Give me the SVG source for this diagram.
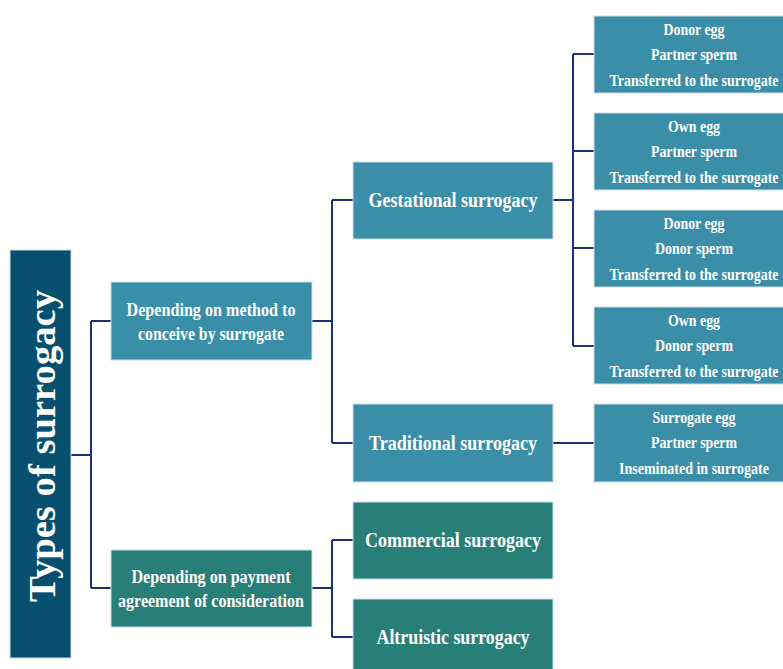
<svg xmlns="http://www.w3.org/2000/svg" width="783" height="669" viewBox="0 0 783 669">
<style>
.blue{fill:#3a8ea7;stroke:#c9e0e8;stroke-width:1}
.green{fill:#287f78;stroke:#c9e0e8;stroke-width:1}
.dark{fill:#064f6f;stroke:#c9e0e8;stroke-width:1}
text{font-family:"Liberation Serif","Times New Roman",serif;font-weight:bold;fill:#ffffff;text-anchor:middle}
.t1{font-size:20px}
.t2{font-size:18px}
.t3{font-size:16.5px}
.conn path{fill:none;stroke:#1d3079;stroke-width:2}
</style>
<rect width="783" height="669" fill="#ffffff"/>
<g class="conn">
<path d="M71,455 H91 M91,321 V588 M91,321 H111 M91,588 H111"/>
<path d="M312,321 H332 M332,200 V443 M332,200 H353 M332,443 H353"/>
<path d="M553,200 H573 M573,54 V346 M573,54 H594 M573,151 H594 M573,248 H594 M573,346 H594"/>
<path d="M553,443 H594"/>
<path d="M312,588 H332 M332,540 V637 M332,540 H353 M332,637 H353"/>
</g>
<g id="root">
<rect class="dark" x="10" y="250" width="61" height="408"/>
<text transform="translate(55,446) rotate(-90)" style="font-size:37px" textLength="312" lengthAdjust="spacingAndGlyphs">Types of surrogacy</text>
</g>
<g id="method">
<rect class="blue" x="111" y="282" width="201" height="78"/>
<text class="t2" x="211" y="316" textLength="169" lengthAdjust="spacingAndGlyphs">Depending on method to</text>
<text class="t2" x="211" y="340" textLength="146" lengthAdjust="spacingAndGlyphs">conceive by surrogate</text>
</g>
<g id="payment">
<rect class="green" x="111" y="550" width="201" height="77"/>
<text class="t2" x="211" y="583" textLength="159" lengthAdjust="spacingAndGlyphs">Depending on payment</text>
<text class="t2" x="211" y="607" textLength="186" lengthAdjust="spacingAndGlyphs">agreement of consideration</text>
</g>
<g id="gestational">
<rect class="blue" x="353" y="162" width="200" height="77"/>
<text class="t1" x="453" y="207" textLength="169" lengthAdjust="spacingAndGlyphs">Gestational surrogacy</text>
</g>
<g id="traditional">
<rect class="blue" x="353" y="404" width="200" height="78"/>
<text class="t1" x="453" y="450" textLength="168" lengthAdjust="spacingAndGlyphs">Traditional surrogacy</text>
</g>
<g id="commercial">
<rect class="green" x="353" y="502" width="200" height="77"/>
<text class="t1" x="453" y="547" textLength="176" lengthAdjust="spacingAndGlyphs">Commercial surrogacy</text>
</g>
<g id="altruistic">
<rect class="green" x="353" y="599" width="200" height="75"/>
<text class="t1" x="453" y="644" textLength="153" lengthAdjust="spacingAndGlyphs">Altruistic surrogacy</text>
</g>
<g id="g1">
<rect class="blue" x="594" y="16" width="194" height="77"/>
<text class="t3" x="694" y="35" textLength="61" lengthAdjust="spacingAndGlyphs">Donor egg</text>
<text class="t3" x="694" y="60" textLength="86" lengthAdjust="spacingAndGlyphs">Partner sperm</text>
<text class="t3" x="694" y="86" textLength="169" lengthAdjust="spacingAndGlyphs">Transferred to the surrogate</text>
</g>
<g id="g2">
<rect class="blue" x="594" y="113" width="194" height="77"/>
<text class="t3" x="694" y="132" textLength="52" lengthAdjust="spacingAndGlyphs">Own egg</text>
<text class="t3" x="694" y="157" textLength="86" lengthAdjust="spacingAndGlyphs">Partner sperm</text>
<text class="t3" x="694" y="183" textLength="169" lengthAdjust="spacingAndGlyphs">Transferred to the surrogate</text>
</g>
<g id="g3">
<rect class="blue" x="594" y="210" width="194" height="77"/>
<text class="t3" x="694" y="229" textLength="61" lengthAdjust="spacingAndGlyphs">Donor egg</text>
<text class="t3" x="694" y="254" textLength="78" lengthAdjust="spacingAndGlyphs">Donor sperm</text>
<text class="t3" x="694" y="280" textLength="169" lengthAdjust="spacingAndGlyphs">Transferred to the surrogate</text>
</g>
<g id="g4">
<rect class="blue" x="594" y="307" width="194" height="77"/>
<text class="t3" x="694" y="326" textLength="52" lengthAdjust="spacingAndGlyphs">Own egg</text>
<text class="t3" x="694" y="351" textLength="78" lengthAdjust="spacingAndGlyphs">Donor sperm</text>
<text class="t3" x="694" y="377" textLength="169" lengthAdjust="spacingAndGlyphs">Transferred to the surrogate</text>
</g>
<g id="t1">
<rect class="blue" x="594" y="404" width="194" height="78"/>
<text class="t3" x="694" y="423" textLength="83" lengthAdjust="spacingAndGlyphs">Surrogate egg</text>
<text class="t3" x="694" y="448" textLength="86" lengthAdjust="spacingAndGlyphs">Partner sperm</text>
<text class="t3" x="694" y="474" textLength="150" lengthAdjust="spacingAndGlyphs">Inseminated in surrogate</text>
</g>
</svg>
